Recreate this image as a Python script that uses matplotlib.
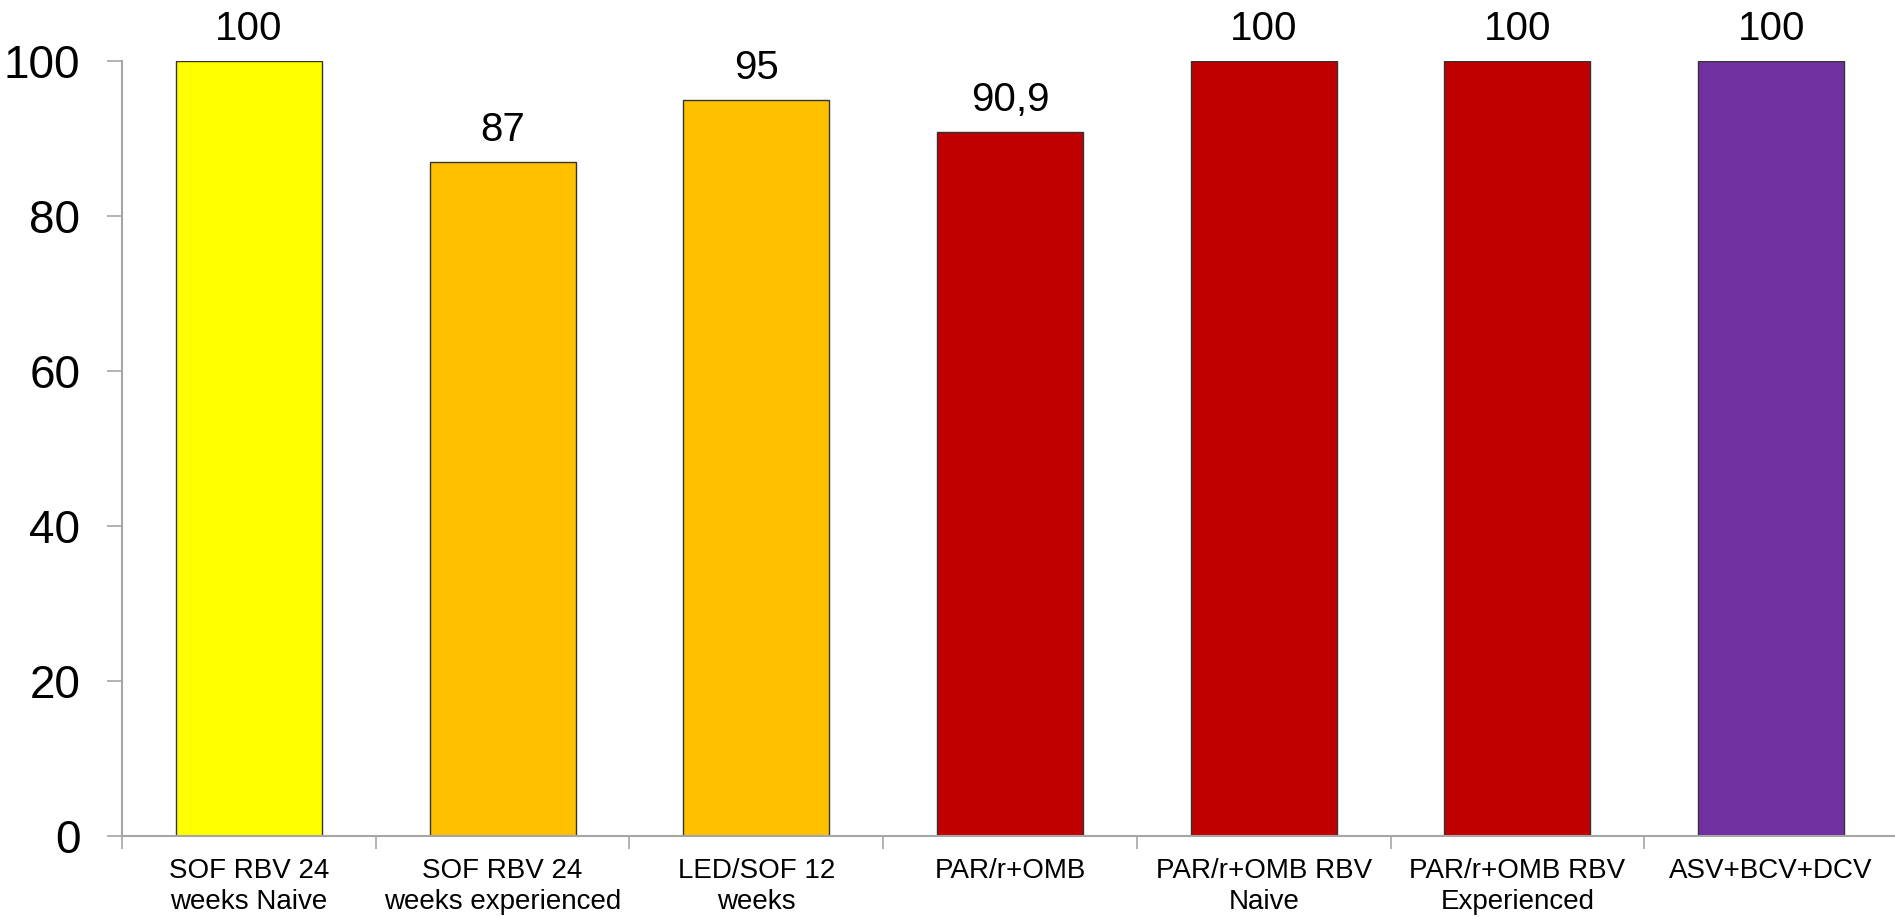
#!/usr/bin/env python3
import numpy as np
import matplotlib
matplotlib.use("Agg")
import matplotlib.pyplot as plt

plt.rcParams['font.family'] = ['Liberation Sans', 'DejaVu Sans']

categories = ["SOF RBV 24\nweeks Naive", "SOF RBV 24\nweeks experienced", "LED/SOF 12\nweeks",
              "PAR/r+OMB", "PAR/r+OMB RBV\nNaive", "PAR/r+OMB RBV\nExperienced", "ASV+BCV+DCV"]
values = [100, 87, 95, 90.9, 100, 100, 100]
value_labels = ["100", "87", "95", "90,9", "100", "100", "100"]
colors = ["#FFFF00", "#FFC000", "#FFC000", "#C00000", "#C00000", "#C00000", "#7030A0"]

fig = plt.figure(figsize=(18.95, 9.19), dpi=100)
ax = fig.add_axes([122 / 1895, 1 - 836 / 919, 1776 / 1895, 775 / 919])

x = np.arange(len(categories))
ax.bar(x, values, width=0.576, color=colors, edgecolor="#333333", linewidth=1)

for xi, v, lab in zip(x, values, value_labels):
    ax.annotate(lab, (xi, v), xytext=(0, 9), textcoords="offset points",
                ha="center", va="bottom", fontsize=29)

ax.set_xlim(-0.5, len(categories) - 0.5)
ax.set_ylim(0, 100)
ax.set_yticks(range(0, 101, 20))
ax.tick_params(axis="y", labelsize=33, length=11, width=1.2, color="#A6A6A6", pad=19)

ax.set_xticks(x)
ax.set_xticklabels(categories, fontsize=20, linespacing=1.25)
ax.set_xticks(np.arange(-0.5, len(categories), 1), minor=True)
ax.tick_params(axis="x", which="major", length=0, pad=16)
ax.tick_params(axis="x", which="minor", length=9, width=1.2, color="#A6A6A6")

for side in ["top", "right"]:
    ax.spines[side].set_visible(False)
for side in ["left", "bottom"]:
    ax.spines[side].set_color("#A6A6A6")
    ax.spines[side].set_linewidth(1.5)

fig.savefig("out.png", dpi=100)
